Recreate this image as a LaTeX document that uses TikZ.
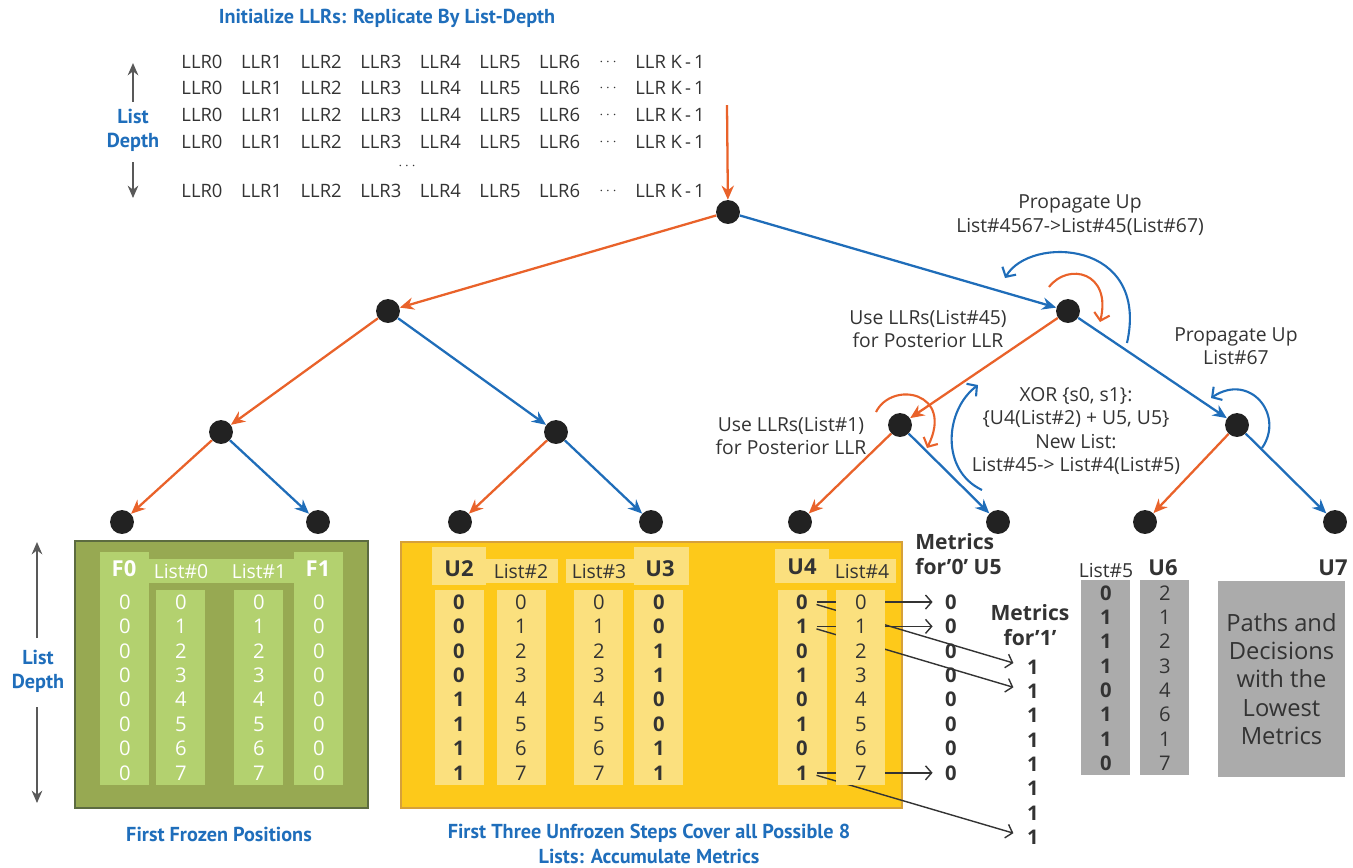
\documentclass[tikz,border=0pt]{standalone}
\usepackage{fontspec}
\setmainfont{Open Sans}
\newfontfamily\ptsans{PT Sans}
\usetikzlibrary{arrows.meta}
\definecolor{orangec}{HTML}{E9622A}
\definecolor{bluec}{HTML}{1F6DB9}
\definecolor{titleblue}{HTML}{1F6EBB}
\definecolor{dotc}{HTML}{222222}
\definecolor{txt}{HTML}{333333}
\definecolor{grayarr}{HTML}{595959}
\definecolor{greenfill}{HTML}{97A952}
\definecolor{greenborder}{HTML}{5C6B40}
\definecolor{lightgreen}{HTML}{B3D16F}
\definecolor{yellowfill}{HTML}{FDC91A}
\definecolor{yellowborder}{HTML}{D6A03A}
\definecolor{lightyellow}{HTML}{FBE07E}
\definecolor{grayfill}{HTML}{ABABAB}
\begin{document}
\begin{tikzpicture}[x=0.02cm,y=-0.02cm,
  dot/.style={circle,fill=dotc,inner sep=0pt,minimum size=13.6pt},
  oedge/.style={draw=orangec,line width=1.3pt,-{Stealth[length=8pt,width=7pt]}},
  bedge/.style={draw=bluec,line width=1.3pt,-{Stealth[length=8pt,width=7pt]}},
  oarc/.style={draw=orangec,line width=1.2pt,-{Straight Barb[length=4pt,width=9pt]}},
  barc/.style={draw=bluec,line width=1.2pt,-{Straight Barb[length=4pt,width=9pt]}},
  garr/.style={draw=grayarr,line width=1.3pt,-{Stealth[length=7pt,width=6pt]}},
  marr/.style={draw=txt,line width=0.8pt,-{Straight Barb[length=3.5pt,width=8pt]}},
  lbl/.style={text=txt,align=center,inner sep=0pt,font=\fontsize{11}{13.4}\selectfont},
  llr/.style={text=txt,inner sep=0pt,font=\fontsize{10.5}{12}\selectfont},
  ell/.style={text=txt,inner sep=0pt,font=\fontsize{8}{9}\selectfont},
  val/.style={text=txt,inner sep=0pt,font=\fontsize{11.5}{13}\selectfont},
  bval/.style={text=txt,inner sep=0pt,font=\bfseries\fontsize{11.5}{13}\selectfont},
  wval/.style={text=white,inner sep=0pt,font=\fontsize{11.5}{13}\selectfont},
  hdr/.style={text=txt,inner sep=0pt,font=\fontsize{11}{13}\selectfont},
  whdr/.style={text=white,inner sep=0pt,font=\fontsize{11}{13}\selectfont},
  bhdr/.style={text=txt,inner sep=0pt,font=\bfseries\fontsize{12.5}{14}\selectfont},
  wbhdr/.style={text=white,inner sep=0pt,font=\bfseries\fontsize{12.5}{14}\selectfont},
  mhdr/.style={text=txt,inner sep=0pt,font=\bfseries\fontsize{12}{14}\selectfont},
  btitle/.style={text=titleblue,align=center,inner sep=0pt,font=\ptsans\bfseries\fontsize{11.5}{13.8}\selectfont},
]
\useasboundingbox (0,0) rectangle (1353,867);

% ---------- title and LLR rows ----------
\node[btitle] (title) at (387,18) {Initialize LLRs: Replicate By List-Depth};
\foreach \y [count=\r] in {62,88,115,142,191} {
  \foreach \c in {0,...,6} \node[llr] (llr-\r-\c) at ({202+59.6*\c},\y) {LLR\c};
  \node[ell] (dots-\r) at (608,\y) {$\cdots$};
  \node[llr] (llrk-\r) at (670,\y) {LLR K\,-\,1};
}
\node[ell] (vdots) at (407,166) {$\cdots$};

% list depth (top)
\node[btitle] (ld1) at (133,130) {List\\Depth};
\coordinate (ld1a) at (133,102); \coordinate (ld1t) at (133,63);
\coordinate (ld1b) at (133,162); \coordinate (ld1d) at (133,198);
\draw[garr] (ld1a) -- (ld1t);
\draw[garr] (ld1b) -- (ld1d);

% list depth (bottom left)
\node[btitle] (ld2) at (38,671) {List\\Depth};
\coordinate (ld2a) at (37,638); \coordinate (ld2t) at (37,542);
\coordinate (ld2b) at (37,707); \coordinate (ld2d) at (37,803);
\draw[garr] (ld2a) -- (ld2t);
\draw[garr] (ld2b) -- (ld2d);

% ---------- tree ----------
\node[dot] (r) at (728,212) {};
\node[dot] (a) at (388,311) {};
\node[dot] (b) at (1068,311) {};
\node[dot] (aa) at (221,432) {};
\node[dot] (ab) at (556,432) {};
\node[dot] (ba) at (900,425) {};
\node[dot] (bb) at (1237,425) {};
\foreach \n/\x in {1/122,2/318,3/460,4/651,5/800,6/998,7/1145,8/1335}
  \node[dot] (l\n) at (\x,522) {};

\coordinate (otop) at (727,105);
\draw[oedge] (otop) -- (r);
\draw[oedge] (r) -- (a);
\draw[bedge] (r) -- (b);
\draw[oedge] (a) -- (aa);
\draw[bedge] (a) -- (ab);
\draw[oedge] (b) -- (ba);
\draw[bedge] (b) -- (bb);
\draw[oedge] (aa) -- (l1);
\draw[bedge] (aa) -- (l2);
\draw[oedge] (ab) -- (l3);
\draw[bedge] (ab) -- (l4);
\draw[oedge] (ba) -- (l5);
\draw[bedge] (ba) -- (l6);
\draw[oedge] (bb) -- (l7);
\draw[bedge] (bb) -- (l8);

% curved arrows
\draw[barc] (1127,343) .. controls (1150,240) and (1030,235) .. (1005,278);
\draw[oarc] (1049,287) .. controls (1068,262) and (1112,272) .. (1100,322);
\draw[oarc] (876,412) .. controls (892,380) and (955,392) .. (927,448);
\draw[barc] (982,490) .. controls (940,470) and (945,410) .. (978,385);
\draw[barc] (1262,448) .. controls (1285,415) and (1250,372) .. (1211,398);

% tree labels
\node[lbl] (pu1) at (1080,215) {Propagate Up\\List\#4567->List\#45(List\#67)};
\node[lbl] (use45) at (928,329) {Use LLRs(List\#45)\\for Posterior LLR};
\node[lbl] (pu2) at (1236,346) {Propagate Up\\List\#67};
\node[lbl] (use1) at (791,436) {Use LLRs(List\#1)\\for Posterior LLR};
\node[lbl] (xor) at (1076,431) {XOR \{s0, s1\}:\\\{U4(List\#2) + U5, U5\}\\New List:\\List\#45-> List\#4(List\#5)};

% ---------- green box ----------
\draw[fill=greenfill,draw=greenborder,line width=1.6pt] (75,541) rectangle (368,808);
\fill[lightgreen] (100,552) rectangle (149,785);
\fill[lightgreen] (149,559) rectangle (294,583);
\fill[lightgreen] (156,590) rectangle (205,785);
\fill[lightgreen] (234,590) rectangle (283,785);
\fill[lightgreen] (294,552) rectangle (343,785);
\node[wbhdr] (f0) at (124,569) {F0};
\node[whdr] (list0) at (181,571) {List\#0};
\node[whdr] (list1) at (259,571) {List\#1};
\node[wbhdr] (f1) at (318,569) {F1};
\foreach \i in {0,...,7} {
  \node[wval] (f0-\i) at (125,{602+24.4*\i}) {0};
  \node[wval] (l0-\i) at (181,{602+24.4*\i}) {\i};
  \node[wval] (l1-\i) at (259,{602+24.4*\i}) {\i};
  \node[wval] (f1-\i) at (319,{602+24.4*\i}) {0};
}

% ---------- yellow box ----------
\draw[fill=yellowfill,draw=yellowborder,line width=1.4pt] (401,542) rectangle (902,808);
\fill[lightyellow] (432,547) rectangle (486,585);
\fill[lightyellow] (486,559) rectangle (558,583);
\fill[lightyellow] (566,559) rectangle (634,583);
\fill[lightyellow] (634,547) rectangle (689,585);
\fill[lightyellow] (435,590) rectangle (484,785);
\fill[lightyellow] (497,590) rectangle (546,785);
\fill[lightyellow] (574,590) rectangle (623,785);
\fill[lightyellow] (634,590) rectangle (683,785);
\fill[lightyellow] (775,549) rectangle (829,583);
\fill[lightyellow] (829,559) rectangle (896,583);
\fill[lightyellow] (778,590) rectangle (827,785);
\node[bhdr] (u2) at (459,569) {U2};
\node[hdr] (list2) at (521,571) {List\#2};
\node[hdr] (list3) at (599,571) {List\#3};
\node[bhdr] (u3) at (660,569) {U3};
\node[bhdr] (u4) at (802,567) {U4};
\node[hdr] (list4) at (862,571) {List\#4};
\foreach \a/\b/\c [count=\j from 0] in {0/0/0,0/0/1,0/1/0,0/1/1,1/0/0,1/0/1,1/1/0,1/1/1} {
  \node[bval] (u2-\j) at (459,{602+24.4*\j}) {\a};
  \node[val] (l2-\j) at (521,{602+24.4*\j}) {\j};
  \node[val] (l3-\j) at (599,{602+24.4*\j}) {\j};
  \node[bval] (u3-\j) at (659,{602+24.4*\j}) {\b};
  \node[bval] (u4-\j) at (802,{602+24.4*\j}) {\c};
}

% metrics
\node[mhdr,anchor=west,align=left] (m0h) at (915,554) {Metrics\\for’0’ U5};
\node[mhdr,align=center] (m1h) at (1030,625) {Metrics\\for’1’};
\foreach \i in {0,...,7} {
  \node[bval] (m0-\i) at (951,{602+24.4*\i}) {0};
  \node[bval] (m1-\i) at (1033,{667+24.3*\i}) {1};
}
\foreach \i in {0,1,7} {
  \draw[marr,shorten <=5pt,shorten >=7pt] (u4-\i.east) -- (m0-\i.west);
  \draw[marr,shorten <=5pt,shorten >=8pt] (u4-\i.east) -- (m1-\i.west);
}
% list#4 column above the connectors
\fill[lightyellow] (836,590) rectangle (885,785);
\foreach \i in {0,...,7}
  \node[val] (l4-\i) at (861,{602+24.4*\i}) {\i};

% ---------- gray part ----------
\node[hdr] (list5) at (1106,570) {List\#5};
\node[bhdr] (u6) at (1163,568) {U6};
\node[bhdr] (u7) at (1333,568) {U7};
\fill[grayfill] (1081,580) rectangle (1130,775);
\fill[grayfill] (1140,580) rectangle (1189,775);
\node[fill=grayfill,minimum width=127*0.567pt,minimum height=196*0.567pt,inner sep=0pt] (paths) at (1281.5,679) {};
\node[text=txt,align=center,font=\fontsize{13.5}{16}\selectfont] (pathstxt) at (paths.center) {Paths and\\Decisions\\with the\\Lowest\\Metrics};
\foreach \a/\b [count=\j from 0] in {0/2,1/1,1/2,1/3,0/4,1/6,1/1,0/7} {
  \node[bval] (l5-\j) at (1106,{593+24.3*\j}) {\a};
  \node[val] (u6-\j) at (1165,{593+24.3*\j}) {\b};
}

% ---------- captions ----------
\node[btitle] (cap1) at (219,834) {First Frozen Positions};
\node[btitle] (cap2) at (649,844) {First Three Unfrozen Steps Cover all Possible 8\\Lists: Accumulate Metrics};
\end{tikzpicture}
\end{document}
